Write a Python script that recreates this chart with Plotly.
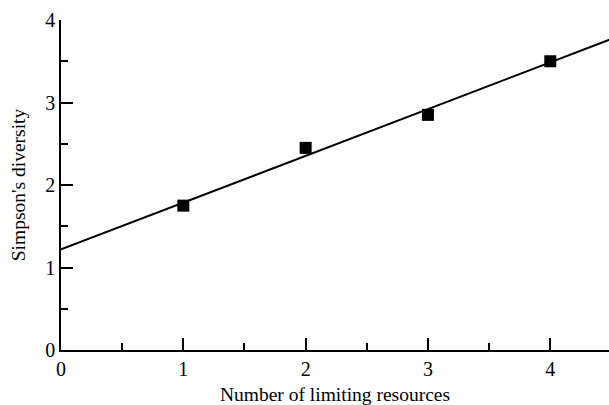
import plotly.graph_objects as go

resources = [1, 2, 3, 4]
diversity = [1.75, 2.45, 2.85, 3.5]
fit_x = [0, 4.5]
fit_y = [1.22, 3.77]

fig = go.Figure()
fig.add_trace(go.Scatter(x=fit_x, y=fit_y, mode="lines",
                         line=dict(color="black", width=2), showlegend=False))
fig.add_trace(go.Scatter(x=resources, y=diversity, mode="markers",
                         marker=dict(symbol="square", size=12, color="black"),
                         showlegend=False))

font = "Liberation Serif, Times New Roman, serif"
fig.update_layout(
    width=609, height=405,
    margin=dict(l=61, r=0, t=20, b=55),
    paper_bgcolor="white", plot_bgcolor="white",
    font=dict(family=font, color="black"),
)
fig.update_xaxes(
    range=[0, 4.48], tickvals=[0, 1, 2, 3, 4], ticks="inside", ticklen=12,
    tickwidth=1.5, tickcolor="black", showline=True, linecolor="black",
    linewidth=1.5, showgrid=False, zeroline=False, tickfont=dict(size=20),
    minor=dict(ticks="inside", ticklen=7, tickwidth=1.5, tickcolor="black",
               dtick=0.5, tick0=0, showgrid=False),
    title=dict(text="Number of limiting resources", font=dict(size=19.5), standoff=9),
)
fig.update_yaxes(
    range=[0, 4], tickvals=[0, 1, 2, 3, 4], ticks="inside", ticklen=12,
    tickwidth=1.5, tickcolor="black", showline=True, linecolor="black",
    linewidth=1.5, showgrid=False, zeroline=False, tickfont=dict(size=20),
    minor=dict(ticks="inside", ticklen=7, tickwidth=1.5, tickcolor="black",
               dtick=0.5, tick0=0, showgrid=False),
    title=dict(text="Simpson's diversity", font=dict(size=19.5), standoff=14),
)
fig.write_html("out.html", config={"displayModeBar": False},
               post_script="document.body.style.margin='0';")
